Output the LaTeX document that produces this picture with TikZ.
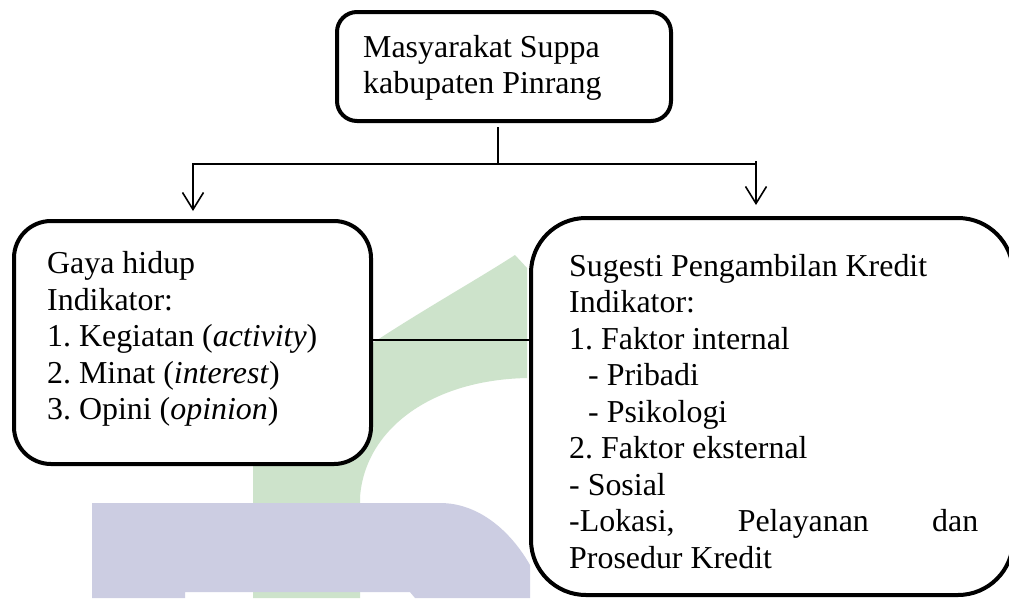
\documentclass[tikz,border=0pt]{standalone}
\usepackage{fontspec}
\setmainfont{Liberation Serif}
\usetikzlibrary{arrows.meta}
\definecolor{wmgreen}{RGB}{205,227,203}
\definecolor{wmblue}{RGB}{204,205,226}
\frenchspacing
\begin{document}
\begin{tikzpicture}[x=1pt,y=-1pt,
  box/.style={draw=black, line width=4pt, fill=white, rectangle, inner sep=0pt},
  txt/.style={anchor=base west, inner sep=0pt, font=\fontsize{31.9pt}{36.55pt}\selectfont\frenchspacing},
  conn/.style={draw=black, line width=1.6pt},
  arr/.style={conn, -{Straight Barb[length=17pt,width=21pt]}}]
\useasboundingbox (0,0) rectangle (1009,598);
\fill[white] (0,0) rectangle (1009,598);
% watermark
\fill[wmgreen] (515,255) .. controls (430,310) and (253,400) .. (253,470) -- (253,598) -- (360,598) -- (360,497) .. controls (365,430) and (430,380) .. (527,378) -- (527,268) -- cycle;
\fill[wmblue] (92,503) -- (440,503) .. controls (478,503) and (510,530) .. (530,565) -- (530,598) -- (415,598) -- (410,592) -- (185,592) -- (185,598) -- (92,598) -- cycle;
% boxes
\node[box, minimum width=334pt, minimum height=109pt, rounded corners=20pt] (top) at (504,66.5) {};
\node[box, minimum width=357pt, minimum height=243pt, rounded corners=37pt] (left) at (192.5,342.5) {};
\node[box, minimum width=482pt, minimum height=377pt, rounded corners=55pt] (right) at (772,406.5) {};
% texts
\node[txt] (toptext) at (363,57) {\begin{tabular}[t]{@{}l@{}}Masyarakat Suppa\\kabupaten Pinrang\end{tabular}};
\node[txt] (lefttext) at (47,273.5) {\begin{tabular}[t]{@{}l@{}}Gaya hidup\\
Indikator:\\
1. Kegiatan (\textit{activity})\\
2. Minat (\textit{interest})\\
3. Opini (\textit{opinion})\end{tabular}};
\node[txt] (righttext) at (569,276) {\begin{tabular}[t]{@{}l@{}}Sugesti Pengambilan Kredit\\
Indikator:\\
1. Faktor internal\\
\hspace*{19pt}- Pribadi\\
\hspace*{19pt}- Psikologi\\
2. Faktor eksternal\\
- Sosial\\
\makebox[409pt][l]{-Lokasi,\hfill Pelayanan\hfill dan}\\
Prosedur Kredit\end{tabular}};
% connectors
\coordinate (ts) at (498,127);
\coordinate (j) at (498,164);
\coordinate (lj) at (193,164);
\coordinate (la) at (193,211);
\coordinate (rjh) at (756,164);
\coordinate (rj) at (756,161);
\coordinate (ra) at (756,205);
\coordinate (mid) at (450,340);
\draw[conn] (ts) -- (j);
\draw[arr] (j) -- (lj) -- (la);
\draw[conn] (j) -- (rjh);
\draw[arr] (rj) -- (ra);
\draw[conn] (left.east |- mid) -- (right.west |- mid);
\end{tikzpicture}
\end{document}
